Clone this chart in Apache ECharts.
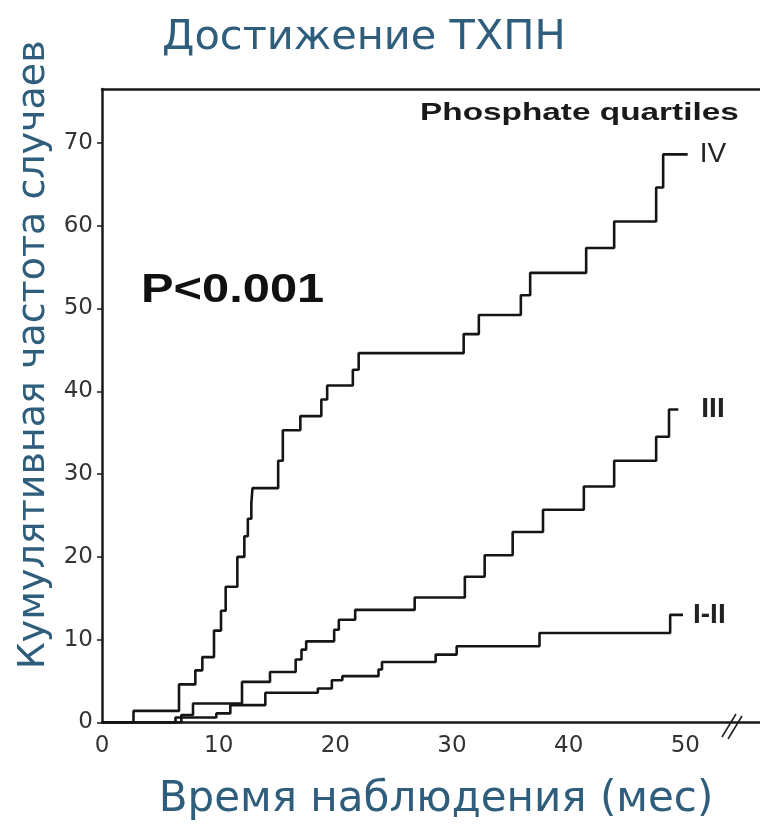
<!DOCTYPE html>
<html lang="ru">
<head>
    <meta charset="UTF-8">
    <title>Достижение ТХПН</title>
    <script type="text/javascript" src="https://cdn.jsdelivr.net/npm/echarts@6/dist/echarts.min.js"></script>
    <style>
        html, body {margin: 0; padding: 0; background: #fff;}
    </style>
</head>
<body>
<div id="chart1" style="width:760px;height:825px"></div>
<script type="text/javascript">
    // кумулятивная частота, шаги (время, мес -> %)
    var ivTime  = [0, 2.7, 6.6, 8.0, 8.6, 9.6, 10.2, 10.6, 11.6, 12.2, 12.5, 12.8, 12.9, 15.1, 15.5, 17.0, 18.8, 19.3, 21.5, 22.0, 31.0, 32.3, 35.9, 36.7, 41.5, 43.9, 47.5, 48.1, 50.2];
    var ivValue = [0, 1.4, 4.6, 6.3, 7.9, 11.1, 13.5, 16.4, 20.0, 22.5, 24.6, 26.5, 28.3, 31.6, 35.3, 37.0, 39.0, 40.7, 42.6, 44.6, 46.9, 49.2, 51.6, 54.3, 57.3, 60.5, 64.6, 68.6, 68.6];

    var iiiTime  = [0, 6.8, 7.8, 12.0, 14.4, 16.6, 17.1, 17.5, 19.9, 20.3, 21.7, 26.8, 31.1, 32.8, 35.2, 37.8, 41.3, 43.9, 47.5, 48.6, 49.4];
    var iiiValue = [0, 0.9, 2.3, 4.9, 6.1, 7.6, 8.8, 9.8, 11.2, 12.4, 13.6, 15.1, 17.6, 20.2, 23.0, 25.7, 28.5, 31.6, 34.5, 37.8, 37.8];

    var iiTime  = [0, 6.3, 9.8, 11.0, 14.0, 18.5, 19.7, 20.6, 23.7, 24.0, 28.6, 30.4, 37.5, 48.7, 49.8];
    var iiValue = [0, 0.6, 1.1, 2.1, 3.6, 4.1, 5.1, 5.6, 6.4, 7.3, 8.2, 9.2, 10.8, 13.0, 13.0];

    var xTicks = [0, 10, 20, 30, 40, 50];
    var yTicks = [0, 10, 20, 30, 40, 50, 60, 70];

    function pairs(t, v) {
        var out = [];
        for (var i = 0; i < t.length; i++) {
            out.push([t[i], v[i]]);
        }
        return out;
    }

    function stepSeries(name, t, v, weight, dist) {
        return {
            name: name,
            type: 'line',
            step: 'end',
            symbol: 'none',
            data: pairs(t, v),
            lineStyle: {color: '#151515', width: 2.6},
            endLabel: {
                show: true,
                formatter: '{a}',
                distance: dist,
                fontFamily: 'Liberation Sans',
                fontWeight: weight,
                fontSize: 28,
                color: '#222'
            },
            silent: true
        };
    }

    var myChart = echarts.init(document.getElementById('chart1'));
    var option = {
        animation: false,
        title: {
            text: 'Достижение ТХПН',
            left: 157,
            top: 12,
            textStyle: {
                fontFamily: 'DejaVu Sans',
                fontWeight: 'normal',
                fontSize: 41.5,
                color: '#2f5d7c'
            }
        },
        grid: {left: 102, right: 0, top: 89, bottom: 102.5, outerBoundsMode: 'none'},
        xAxis: [
            {
                type: 'value',
                min: 0,
                max: 56.4,
                interval: 10,
                name: 'Время наблюдения (мес)',
                nameLocation: 'middle',
                nameGap: 57,
                nameTextStyle: {fontFamily: 'DejaVu Sans', fontSize: 42, color: '#2f5d7c', padding: [0, 0, 0, 10]},
                axisLine: {lineStyle: {color: '#1a1a1a', width: 2.5}},
                axisTick: {show: false},
                axisLabel: {
                    customValues: xTicks,
                    margin: 12,
                    fontFamily: 'DejaVu Sans',
                    fontSize: 23,
                    color: '#333'
                },
                splitLine: {show: false}
            },
            {
                type: 'value',
                position: 'top',
                min: 0,
                max: 56.4,
                axisLine: {lineStyle: {color: '#1a1a1a', width: 2.5}},
                axisTick: {show: false},
                axisLabel: {show: false},
                splitLine: {show: false}
            }
        ],
        yAxis: {
            type: 'value',
            min: 0,
            max: 76.5,
            interval: 10,
            name: 'Кумулятивная частота случаев',
            nameLocation: 'middle',
            nameRotate: 90,
            nameGap: 46,
            nameTextStyle: {fontFamily: 'DejaVu Sans', fontSize: 38, color: '#2f5d7c', padding: [0, 0, 0, 102]},
            axisLine: {show: true, lineStyle: {color: '#1a1a1a', width: 2.5}},
            axisTick: {show: true, customValues: yTicks, length: 5, lineStyle: {color: '#1a1a1a', width: 1.5}},
            axisLabel: {
                customValues: yTicks,
                margin: 9,
                fontFamily: 'DejaVu Sans',
                fontSize: 23,
                color: '#333'
            },
            splitLine: {show: false}
        },
        graphic: [
            {
                type: 'text',
                x: 420,
                y: 113,
                scaleX: 1.39,
                style: {
                    text: 'Phosphate quartiles',
                    x: 0, y: 0,
                    textAlign: 'left',
                    textVerticalAlign: 'middle',
                    fontFamily: 'Liberation Sans',
                    fontWeight: 'bold',
                    fontSize: 24,
                    fill: '#1a1a1a'
                }
            },
            {
                type: 'text',
                x: 141,
                y: 291,
                scaleX: 1.22,
                style: {
                    text: 'P<0.001',
                    x: 0, y: 0,
                    textAlign: 'left',
                    textVerticalAlign: 'middle',
                    fontFamily: 'Liberation Sans',
                    fontWeight: 'bold',
                    fontSize: 40,
                    fill: '#111'
                }
            },
            // разрыв оси
            {
                type: 'line',
                shape: {x1: 722, y1: 737, x2: 736, y2: 714},
                style: {stroke: '#222', lineWidth: 1.6}
            },
            {
                type: 'line',
                shape: {x1: 728, y1: 739, x2: 742, y2: 716},
                style: {stroke: '#222', lineWidth: 1.6}
            }
        ],
        series: [
            stepSeries('IV', ivTime, ivValue, 'normal', 12),
            stepSeries('III', iiiTime, iiiValue, 'bold', 23),
            stepSeries('I-II', iiTime, iiValue, 'bold', 10)
        ]
    };
    myChart.setOption(option);
</script>
</body>
</html>
